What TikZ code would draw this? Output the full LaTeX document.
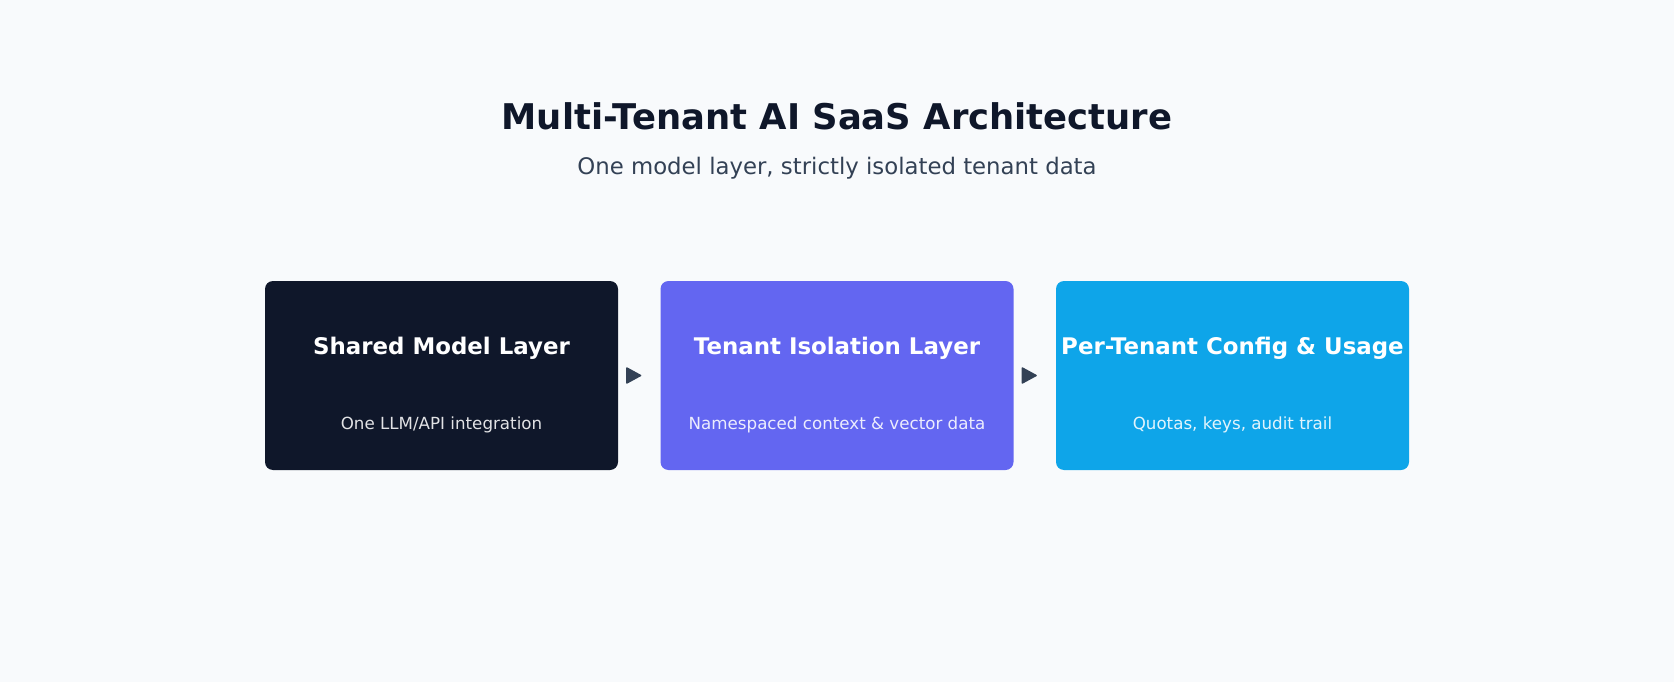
\documentclass[tikz,border=0pt]{standalone}
\usepackage{fontspec}
\setmainfont{DejaVu Sans}
\usetikzlibrary{arrows.meta}
\definecolor{bgpage}{HTML}{F8FAFC}
\definecolor{inkdark}{HTML}{0F172A}
\definecolor{inkgray}{HTML}{334155}
\definecolor{layerindigo}{HTML}{6366F1}
\definecolor{layersky}{HTML}{0EA5E9}
\begin{document}
\begin{tikzpicture}[x=1pt, y=-1pt,
		layerbox/.style={shape=rectangle, rounded corners=8pt, minimum width=353pt, minimum height=189pt, inner sep=0pt},
		layertitle/.style={text=white, font=\bfseries\fontsize{22.9}{27}\selectfont},
		layernote/.style={text=white, text opacity=0.88, font=\fontsize{16.7}{20}\selectfont},
		flow/.style={draw=inkgray, fill=inkgray, line width=1.5pt, -{Triangle[length=16pt, width=17pt, round]}, shorten <=9pt, shorten >=19pt}]
			\fill[bgpage] (0,0) rectangle (1674,682);
			\useasboundingbox (0,0) rectangle (1674,682);
			
			\node (title)[text=inkdark, font=\bfseries\fontsize{35.4}{42}\selectfont] 
			at (837,116){Multi-Tenant AI SaaS Architecture};
			
			\node (subtitle)[text=inkgray, font=\fontsize{22.8}{27}\selectfont] 
			at (837,168){One model layer, strictly isolated tenant data};
			
			\node (z1)[layerbox, fill=inkdark] at (441.5,375.5) {};
			\node (z1t)[layertitle] at (441.5,348) {Shared Model Layer};
			\node (z1n)[layernote] at (441.5,425) {One LLM/API integration};
			
			\node (z2)[layerbox, fill=layerindigo] at (837,375.5) {};
			\node (z2t)[layertitle] at (837,348) {Tenant Isolation Layer};
			\node (z2n)[layernote] at (837,425) {Namespaced context \& vector data};
			
			\node (z3)[layerbox, fill=layersky] at (1232.5,375.5) {};
			\node (z3t)[layertitle] at (1232.5,348) {Per-Tenant Config \& Usage};
			\node (z3n)[layernote] at (1232.5,425) {Quotas, keys, audit trail};
			
			\path[flow] (z1) edge (z2);
			\path[flow] (z2) edge (z3);
		\end{tikzpicture}
\end{document}
